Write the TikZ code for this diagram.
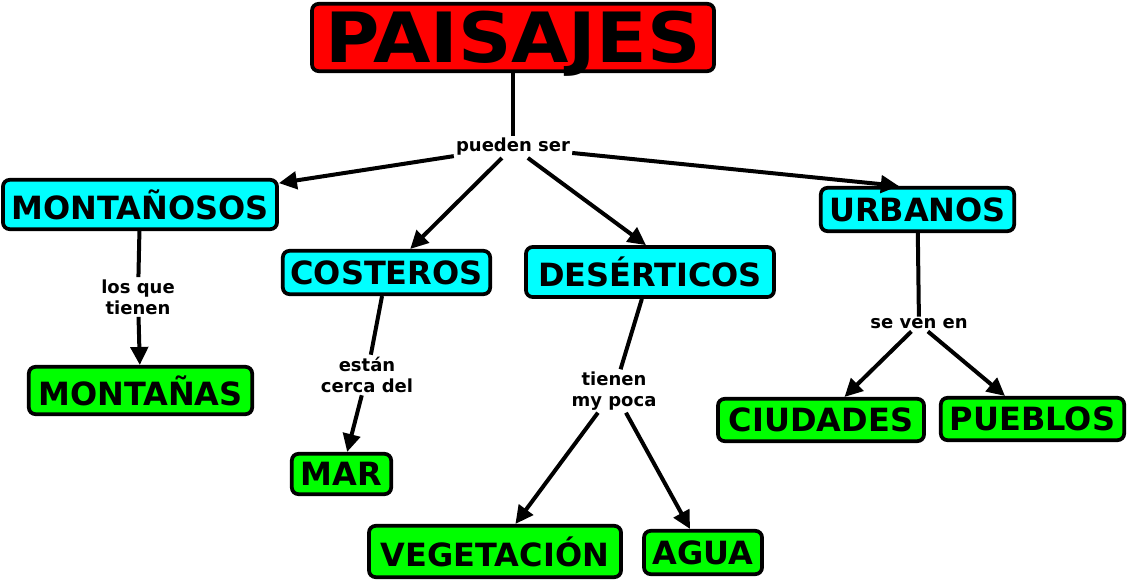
\documentclass[tikz,border=0pt]{standalone}
\usepackage{fontspec}
\setmainfont{DejaVu Sans}
\usetikzlibrary{arrows.meta}
\definecolor{boxred}{RGB}{255,0,0}
\definecolor{boxcyan}{RGB}{0,255,255}
\definecolor{boxgreen}{RGB}{0,255,0}
\tikzset{
  concept/.style={draw=black, line width=2.8pt, rounded corners=5pt, inner sep=2pt,
    font=\fontsize{24pt}{28pt}\selectfont\bfseries},
  topbox/.style={concept, fill=boxred, font=\fontsize{52pt}{60pt}\selectfont\bfseries,
    text height=38pt, text depth=0pt},
  catbox/.style={concept, fill=boxcyan},
  leafbox/.style={concept, fill=boxgreen},
  linklbl/.style={font=\fontsize{13.5pt}{16pt}\selectfont\bfseries, align=center, inner sep=1.5pt},
  conn/.style={line width=3pt},
  arr/.style={conn, -{Triangle[length=13.5pt,width=13pt]}},
}
\begin{document}
\begin{tikzpicture}[x=0.75pt, y=-0.75pt]
\useasboundingbox (0,0) rectangle (1128,581);
% concepts
\node[topbox, minimum width=301.5pt, minimum height=50.5pt] (pai) at (513,37.5) {\scalebox{1.07}[1]{PAISAJES}};
\node[catbox, minimum width=205.5pt, minimum height=37pt] (mos) at (140,204.5) {MONTAÑOSOS};
\node[catbox, minimum width=155.5pt, minimum height=32.5pt] (cos) at (386.5,272.5) {COSTEROS};
\node[catbox, minimum width=186pt, minimum height=37.5pt] (des) at (650,272) {DESÉRTICOS};
\node[catbox, minimum width=145pt, minimum height=32.5pt] (urb) at (917.5,209.5) {URBANOS};
\node[leafbox, minimum width=167.5pt, minimum height=35.5pt] (mon) at (140.5,390.5) {MONTAÑAS};
\node[leafbox, minimum width=74.5pt, minimum height=30.25pt] (mar) at (341.5,474) {MAR};
\node[leafbox, minimum width=189pt, minimum height=38.5pt] (veg) at (495,551.5) {VEGETACIÓN};
\node[leafbox, minimum width=88.5pt, minimum height=32.5pt] (agu) at (703,552.5) {AGUA};
\node[leafbox, minimum width=154.5pt, minimum height=31.75pt] (ciu) at (821,420) {CIUDADES};
\node[leafbox, minimum width=137.5pt, minimum height=31.75pt] (pue) at (1032.5,419) {PUEBLOS};
% link labels
\node[linklbl] (l0) at (513,147) {pueden ser};
\node[linklbl] (l1) at (138,297) {los que\\tienen};
\node[linklbl] (l2) at (367,375) {están\\cerca del};
\node[linklbl] (l3) at (614,391) {tienen\\my poca};
\node[linklbl] (l4) at (919,324) {se ven en};
% connectors
\draw[conn] (pai) -- (l0);
\draw[arr] (l0) -- (mos);
\draw[arr] (l0) -- (cos);
\draw[arr] (l0) -- ([xshift=-3pt]des.north);
\draw[arr] (l0) -- ([xshift=-14pt]urb.north);
\draw[conn] (mos) -- (l1);
\draw[arr] (l1) -- (mon);
\draw[conn] (cos) -- (l2);
\draw[arr] (l2) -- (mar);
\draw[conn] (des) -- (l3);
\draw[arr] (l3) -- (veg);
\draw[arr] (l3) -- (agu);
\draw[conn] (urb) -- (l4);
\draw[arr] (l4) -- (ciu);
\draw[arr] (l4) -- (pue);
\end{tikzpicture}
\end{document}
